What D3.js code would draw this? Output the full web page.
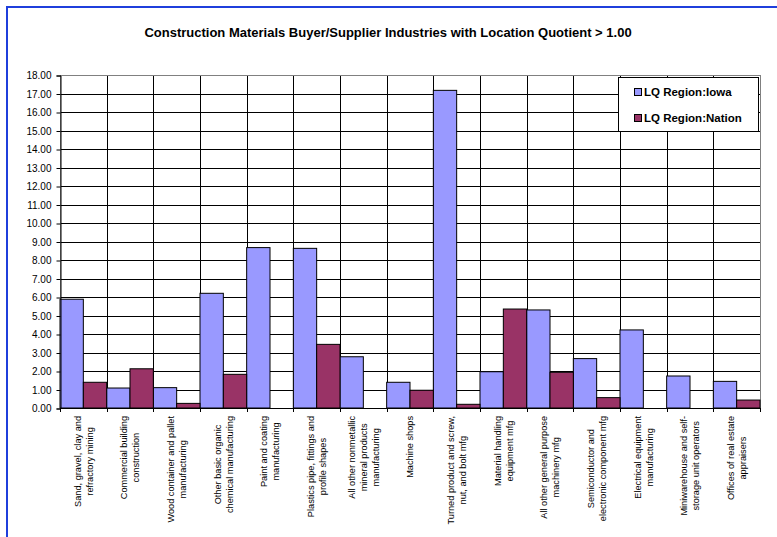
<!DOCTYPE html>
<html>
<head>
<meta charset="UTF-8">
<script src="https://d3js.org/d3.v7.min.js"></script>
<style>
  body { margin: 0; background: #fff; }
  text { font-family: Arial, "Liberation Sans", sans-serif; }
</style>
</head>
<body>
<svg width="777" height="537"></svg>
<script>
// industries (line breaks as in the chart labels)
var industries = [
  "Sand, gravel, clay and\nrefractory mining",
  "Commercial building\nconstruction",
  "Wood container and pallet\nmanufacturing",
  "Other basic organic\nchemical manufacturing",
  "Paint and coating\nmanufacturing",
  "Plastics pipe, fittings and\nprofile shapes",
  "All other nonmetallic\nmineral products\nmanufacturing",
  "Machine shops",
  "Turned product and screw,\nnut, and bolt mfg",
  "Material handling\nequipment mfg",
  "All other general purpose\nmachinery mfg",
  "Semiconductor and\nelectronic component mfg",
  "Electrical equipment\nmanufacturing",
  "Miniwarehouse and self-\nstorage unit operators",
  "Offices of real estate\nappraisers"
];
var lqIowa   = [5.88, 1.08, 1.10, 6.20, 8.67, 8.63, 2.77, 1.39, 17.17, 1.96, 5.30, 2.67, 4.22, 1.73, 1.44];
var lqNation = [1.39, 2.12, 0.25, 1.82, null, 3.44, null, 0.96, 0.20, 5.35, 1.93, 0.56, null, null, 0.43];
var seriesNames = ["LQ Region:Iowa", "LQ Region:Nation"];
var seriesColors = ["#9999FF", "#993366"];
var yTicks = d3.range(0, 19, 1);

var svg = d3.select("svg");

// outer chart border
svg.append("rect")
  .attr("x", 7).attr("y", 7).attr("width", 790).attr("height", 560)
  .attr("fill", "none").attr("stroke", "#1f3fdc").attr("stroke-width", 2);

svg.append("text")
  .attr("x", 388).attr("y", 37)
  .attr("text-anchor", "middle")
  .style("font-size", "13px").style("font-weight", "bold")
  .text("Construction Materials Buyer/Supplier Industries with Location Quotient > 1.00");

var plotL = 60, plotR = 760, plotT = 75, plotB = 408;

var x = d3.scaleBand().domain(d3.range(industries.length)).range([plotL, plotR]).padding(0);
var xs = d3.scaleBand().domain([0, 1]).range([0, x.bandwidth()]).padding(0);
var y = d3.scaleLinear().domain([0, 18]).range([plotB, plotT]);

// horizontal grid
svg.append("g").selectAll("line").data(yTicks).enter().append("line")
  .attr("x1", plotL).attr("x2", plotR)
  .attr("y1", function(d) { return Math.round(y(d)) + 0.5; })
  .attr("y2", function(d) { return Math.round(y(d)) + 0.5; })
  .attr("stroke", "#000").attr("stroke-width", 1);

// vertical grid at category boundaries
svg.append("g").selectAll("line").data(d3.range(1, industries.length)).enter().append("line")
  .attr("x1", function(i) { return Math.round(x(i)) + 0.5; })
  .attr("x2", function(i) { return Math.round(x(i)) + 0.5; })
  .attr("y1", plotT).attr("y2", plotB)
  .attr("stroke", "#000").attr("stroke-width", 1);

// plot area border
svg.append("rect")
  .attr("x", plotL + 0.5).attr("y", plotT + 0.5)
  .attr("width", plotR - plotL).attr("height", plotB - plotT)
  .attr("fill", "none").attr("stroke", "#808080").attr("stroke-width", 1);

// bars
var series = [lqIowa, lqNation];
series.forEach(function(vals, s) {
  svg.append("g").selectAll("rect")
    .data(vals.map(function(v, i) { return { i: i, v: v }; }).filter(function(d) { return d.v != null; }))
    .enter().append("rect")
    .attr("x", function(d) { return x(d.i) + xs(s); })
    .attr("y", function(d) { return y(d.v); })
    .attr("width", xs.bandwidth())
    .attr("height", function(d) { return y(0) - y(d.v); })
    .attr("fill", seriesColors[s])
    .attr("stroke", "#000").attr("stroke-width", 1);
});

// y axis
var yAxis = svg.append("g")
  .attr("transform", "translate(" + (plotL + 0.5) + ",0.5)")
  .call(d3.axisLeft(y).tickValues(yTicks).tickFormat(d3.format(".2f")).tickSizeOuter(0).tickSize(4).tickPadding(5));
yAxis.selectAll("text").style("font-size", "10px").attr("fill", "#000");
yAxis.selectAll("line, path").attr("stroke", "#000");

// x axis line with boundary ticks
svg.append("line")
  .attr("x1", plotL).attr("x2", plotR).attr("y1", plotB + 0.5).attr("y2", plotB + 0.5)
  .attr("stroke", "#000");
svg.append("g").selectAll("line").data(d3.range(0, industries.length + 1)).enter().append("line")
  .attr("x1", function(i) { return Math.round(i < industries.length ? x(i) : plotR) + 0.5; })
  .attr("x2", function(i) { return Math.round(i < industries.length ? x(i) : plotR) + 0.5; })
  .attr("y1", plotB).attr("y2", plotB + 4)
  .attr("stroke", "#000");

// category labels, rotated
var lineH = 12;
industries.forEach(function(lab, i) {
  var lines = lab.split("\n");
  var t = svg.append("text")
    .attr("text-anchor", "middle")
    .style("font-size", "9.2px").attr("fill", "#000");
  lines.forEach(function(l, k) {
    t.append("tspan").attr("x", 0)
      .attr("y", (k - (lines.length - 1) / 2) * lineH + 3.3)
      .text(l);
  });
  var maxW = d3.max(t.selectAll("tspan").nodes(), function(n) { return n.getComputedTextLength(); });
  var cx = x(i) + x.bandwidth() / 2;
  t.attr("transform", "translate(" + cx + "," + (416 + maxW / 2) + ") rotate(-90)");
});

// legend
var lg = svg.append("g");
lg.append("rect")
  .attr("x", 618.5).attr("y", 77.5).attr("width", 140).attr("height", 54)
  .attr("fill", "#fff").attr("stroke", "#000");
seriesNames.forEach(function(n, s) {
  var ly = 92 + s * 26;
  lg.append("rect")
    .attr("x", 634.5).attr("y", ly - 3.5).attr("width", 7).attr("height", 7)
    .attr("fill", seriesColors[s]).attr("stroke", "#000");
  lg.append("text")
    .attr("x", 644).attr("y", ly + 4)
    .style("font-size", "11.5px").style("font-weight", "bold")
    .text(n);
});
</script>
</body>
</html>
